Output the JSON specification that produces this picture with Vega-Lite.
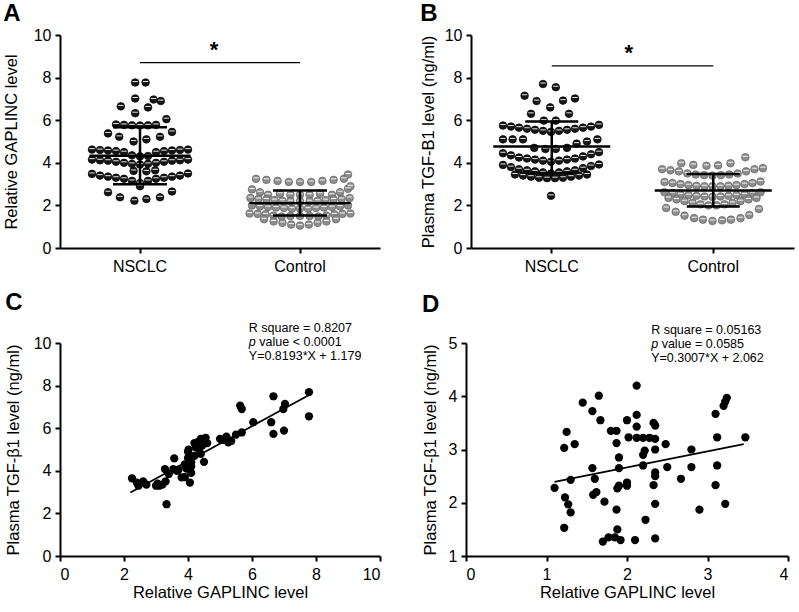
{
"$schema":"https://vega.github.io/schema/vega-lite/v6.json",
"padding":{"left":3,"top":2,"right":2,"bottom":2},
"config":{"font":"Liberation Sans","view":{"stroke":null},
"axis":{"domainColor":"#000","domainWidth":2,"tickColor":"#000","tickWidth":2,"tickSize":5,"labelColor":"#000","labelFontSize":16,"titleColor":"#000","titleFontSize":16.5,"titleFontWeight":"normal","grid":false},
"axisY":{"labelPadding":4},
"axisX":{"labelPadding":5},
"title":{"fontSize":24,"fontWeight":"bold","anchor":"start","frame":"bounds","color":"#000"}},
"datasets":{
"aPts":[
{"group":"NSCLC","slot":-0.6,"v":7.77},{"group":"NSCLC","slot":0.7,"v":7.77},
{"group":"NSCLC","slot":-0.6,"v":7.02},{"group":"NSCLC","slot":1.7,"v":6.97},{"group":"NSCLC","slot":2.6,"v":6.9},
{"group":"NSCLC","slot":-2.4,"v":6.65},{"group":"NSCLC","slot":1.0,"v":6.6},
{"group":"NSCLC","slot":-0.6,"v":6.33},{"group":"NSCLC","slot":3.3,"v":6.05},
{"group":"NSCLC","slot":-3,"v":5.8},{"group":"NSCLC","slot":-2,"v":5.78},{"group":"NSCLC","slot":-1,"v":5.76},{"group":"NSCLC","slot":0,"v":5.75},{"group":"NSCLC","slot":1,"v":5.76},{"group":"NSCLC","slot":2,"v":5.78},
{"group":"NSCLC","slot":-4,"v":5.38},{"group":"NSCLC","slot":-2.6,"v":5.22},{"group":"NSCLC","slot":-0.8,"v":5.0},{"group":"NSCLC","slot":0.8,"v":5.1},{"group":"NSCLC","slot":2.5,"v":5.22},{"group":"NSCLC","slot":4,"v":5.45},
{"group":"NSCLC","slot":-6,"v":4.62},{"group":"NSCLC","slot":-5,"v":4.6},{"group":"NSCLC","slot":-4,"v":4.58},{"group":"NSCLC","slot":-3,"v":4.55},{"group":"NSCLC","slot":-2,"v":4.5},{"group":"NSCLC","slot":-1,"v":4.35},{"group":"NSCLC","slot":0,"v":4.3},{"group":"NSCLC","slot":1,"v":4.32},{"group":"NSCLC","slot":2,"v":4.5},{"group":"NSCLC","slot":3,"v":4.55},{"group":"NSCLC","slot":4,"v":4.58},{"group":"NSCLC","slot":5,"v":4.6},{"group":"NSCLC","slot":6,"v":4.62},
{"group":"NSCLC","slot":-6,"v":4.15},{"group":"NSCLC","slot":-5,"v":4.12},{"group":"NSCLC","slot":-4,"v":4.1},{"group":"NSCLC","slot":-3,"v":4.05},{"group":"NSCLC","slot":-2,"v":4.0},{"group":"NSCLC","slot":-1,"v":3.95},{"group":"NSCLC","slot":0,"v":3.92},{"group":"NSCLC","slot":1,"v":3.95},{"group":"NSCLC","slot":2,"v":4.0},{"group":"NSCLC","slot":3,"v":4.05},{"group":"NSCLC","slot":4,"v":4.1},{"group":"NSCLC","slot":5,"v":4.12},{"group":"NSCLC","slot":6,"v":4.15},
{"group":"NSCLC","slot":-0.8,"v":3.62},{"group":"NSCLC","slot":0.8,"v":3.6},{"group":"NSCLC","slot":1.9,"v":3.65},
{"group":"NSCLC","slot":-6,"v":3.48},{"group":"NSCLC","slot":-5,"v":3.4},{"group":"NSCLC","slot":-4,"v":3.35},{"group":"NSCLC","slot":-3,"v":3.3},{"group":"NSCLC","slot":-2,"v":3.25},{"group":"NSCLC","slot":-1,"v":3.15},{"group":"NSCLC","slot":0,"v":3.05},{"group":"NSCLC","slot":1,"v":3.15},{"group":"NSCLC","slot":2,"v":3.25},{"group":"NSCLC","slot":3,"v":3.3},{"group":"NSCLC","slot":4,"v":3.35},{"group":"NSCLC","slot":5,"v":3.4},{"group":"NSCLC","slot":6,"v":3.5},
{"group":"NSCLC","slot":0,"v":2.9},{"group":"NSCLC","slot":-4,"v":2.62},{"group":"NSCLC","slot":4,"v":2.65},
{"group":"NSCLC","slot":-2.5,"v":2.38},{"group":"NSCLC","slot":-0.7,"v":2.22},{"group":"NSCLC","slot":0.8,"v":2.3},{"group":"NSCLC","slot":2.5,"v":2.38},
{"group":"Control","slot":-5.5,"v":3.25},{"group":"Control","slot":-4.2,"v":3.2},{"group":"Control","slot":-2.8,"v":3.15},{"group":"Control","slot":-1.4,"v":3.1},{"group":"Control","slot":0,"v":3.1},{"group":"Control","slot":1.4,"v":3.1},{"group":"Control","slot":2.8,"v":3.15},{"group":"Control","slot":4.2,"v":3.2},{"group":"Control","slot":5.5,"v":3.25},{"group":"Control","slot":6.0,"v":3.45},
{"group":"Control","slot":-6,"v":2.75},{"group":"Control","slot":-5,"v":2.62},{"group":"Control","slot":-4,"v":2.5},{"group":"Control","slot":4,"v":2.5},{"group":"Control","slot":5,"v":2.62},{"group":"Control","slot":6,"v":2.78},{"group":"Control","slot":6.3,"v":2.9},
{"group":"Control","slot":-2.5,"v":2.55},{"group":"Control","slot":-1.2,"v":2.5},{"group":"Control","slot":0,"v":2.5},{"group":"Control","slot":1.2,"v":2.5},{"group":"Control","slot":2.5,"v":2.55},
{"group":"Control","slot":-6.2,"v":2.35},{"group":"Control","slot":-5.2,"v":2.3},{"group":"Control","slot":-4.2,"v":2.28},{"group":"Control","slot":-3.2,"v":2.25},{"group":"Control","slot":-2.2,"v":2.22},{"group":"Control","slot":-1.2,"v":2.2},{"group":"Control","slot":0,"v":2.2},{"group":"Control","slot":1.2,"v":2.2},{"group":"Control","slot":2.2,"v":2.22},{"group":"Control","slot":3.2,"v":2.25},{"group":"Control","slot":4.2,"v":2.28},{"group":"Control","slot":5.2,"v":2.3},{"group":"Control","slot":6.2,"v":2.35},
{"group":"Control","slot":-6,"v":2.0},{"group":"Control","slot":-5,"v":1.95},{"group":"Control","slot":-4,"v":1.92},{"group":"Control","slot":-3,"v":1.9},{"group":"Control","slot":-2,"v":1.88},{"group":"Control","slot":-1,"v":1.85},{"group":"Control","slot":0,"v":1.85},{"group":"Control","slot":1,"v":1.85},{"group":"Control","slot":2,"v":1.88},{"group":"Control","slot":3,"v":1.9},{"group":"Control","slot":4,"v":1.92},{"group":"Control","slot":5,"v":1.95},{"group":"Control","slot":6,"v":2.0},
{"group":"Control","slot":-6.3,"v":1.62},{"group":"Control","slot":-5.3,"v":1.6},{"group":"Control","slot":-4.3,"v":1.58},{"group":"Control","slot":-3.3,"v":1.52},{"group":"Control","slot":-2.3,"v":1.48},{"group":"Control","slot":-1.2,"v":1.5},{"group":"Control","slot":0,"v":1.5},{"group":"Control","slot":1.2,"v":1.5},{"group":"Control","slot":2.3,"v":1.48},{"group":"Control","slot":3.3,"v":1.52},{"group":"Control","slot":4.3,"v":1.58},{"group":"Control","slot":5.3,"v":1.6},{"group":"Control","slot":6.3,"v":1.62},
{"group":"Control","slot":-4.5,"v":1.35},{"group":"Control","slot":-3.3,"v":1.25},{"group":"Control","slot":-2.2,"v":1.18},{"group":"Control","slot":-1.1,"v":1.1},{"group":"Control","slot":0,"v":1.05},{"group":"Control","slot":1.1,"v":1.1},{"group":"Control","slot":2.2,"v":1.18},{"group":"Control","slot":3.3,"v":1.25},{"group":"Control","slot":4.5,"v":1.35}
],
"aStats":[{"group":"NSCLC","mean":4.33,"lo":2.99,"hi":5.67},{"group":"Control","mean":2.1,"lo":1.52,"hi":2.7}],
"aSig":[{"group":"NSCLC","group2":"Control","y":8.7,"ys":9.3}],
"bPts":[
{"group":"NSCLC","slot":-1.0,"v":7.7},{"group":"NSCLC","slot":0.6,"v":7.55},{"group":"NSCLC","slot":-3.3,"v":7.15},{"group":"NSCLC","slot":-1.8,"v":6.9},{"group":"NSCLC","slot":1.5,"v":6.92},{"group":"NSCLC","slot":3.0,"v":7.02},{"group":"NSCLC","slot":-0.1,"v":6.6},{"group":"NSCLC","slot":-2.5,"v":6.3},{"group":"NSCLC","slot":2.25,"v":6.3},{"group":"NSCLC","slot":-0.9,"v":5.98},{"group":"NSCLC","slot":0.6,"v":5.98},
{"group":"NSCLC","slot":-6,"v":5.75},{"group":"NSCLC","slot":-5,"v":5.7},{"group":"NSCLC","slot":-4,"v":5.65},{"group":"NSCLC","slot":-3,"v":5.6},{"group":"NSCLC","slot":-2,"v":5.55},{"group":"NSCLC","slot":-1,"v":5.5},{"group":"NSCLC","slot":0,"v":5.45},{"group":"NSCLC","slot":1,"v":5.5},{"group":"NSCLC","slot":2,"v":5.55},{"group":"NSCLC","slot":3,"v":5.6},{"group":"NSCLC","slot":4,"v":5.65},{"group":"NSCLC","slot":5,"v":5.7},{"group":"NSCLC","slot":6,"v":5.78},
{"group":"NSCLC","slot":-6,"v":5.1},{"group":"NSCLC","slot":-4.8,"v":5.1},{"group":"NSCLC","slot":-3.5,"v":5.1},{"group":"NSCLC","slot":4.5,"v":5.0},{"group":"NSCLC","slot":5.8,"v":5.1},{"group":"NSCLC","slot":-2.1,"v":4.7},{"group":"NSCLC","slot":-0.7,"v":4.65},{"group":"NSCLC","slot":0.6,"v":4.65},{"group":"NSCLC","slot":2.0,"v":4.7},{"group":"NSCLC","slot":3.2,"v":4.9},
{"group":"NSCLC","slot":-6,"v":4.45},{"group":"NSCLC","slot":-5,"v":4.35},{"group":"NSCLC","slot":-4,"v":4.25},{"group":"NSCLC","slot":-3,"v":4.2},{"group":"NSCLC","slot":-2,"v":4.15},{"group":"NSCLC","slot":-1,"v":4.1},{"group":"NSCLC","slot":0,"v":4.05},{"group":"NSCLC","slot":1,"v":4.1},{"group":"NSCLC","slot":2,"v":4.15},{"group":"NSCLC","slot":3,"v":4.2},{"group":"NSCLC","slot":4,"v":4.3},{"group":"NSCLC","slot":5,"v":4.4},{"group":"NSCLC","slot":6,"v":4.5},
{"group":"NSCLC","slot":-6,"v":3.9},{"group":"NSCLC","slot":-5,"v":3.8},{"group":"NSCLC","slot":-4,"v":3.7},{"group":"NSCLC","slot":-3,"v":3.65},{"group":"NSCLC","slot":-2,"v":3.6},{"group":"NSCLC","slot":-1,"v":3.55},{"group":"NSCLC","slot":0,"v":3.5},{"group":"NSCLC","slot":1,"v":3.55},{"group":"NSCLC","slot":2,"v":3.6},{"group":"NSCLC","slot":3,"v":3.65},{"group":"NSCLC","slot":4,"v":3.75},{"group":"NSCLC","slot":5,"v":3.85},{"group":"NSCLC","slot":6,"v":3.92},
{"group":"NSCLC","slot":-4.5,"v":3.45},{"group":"NSCLC","slot":-3.5,"v":3.4},{"group":"NSCLC","slot":-2.5,"v":3.35},{"group":"NSCLC","slot":-1.5,"v":3.3},{"group":"NSCLC","slot":-0.5,"v":3.28},{"group":"NSCLC","slot":0.5,"v":3.28},{"group":"NSCLC","slot":1.5,"v":3.3},{"group":"NSCLC","slot":2.5,"v":3.35},{"group":"NSCLC","slot":3.5,"v":3.4},{"group":"NSCLC","slot":4.5,"v":3.45},
{"group":"NSCLC","slot":0,"v":2.45},
{"group":"Control","slot":4.1,"v":4.26},{"group":"Control","slot":-3.9,"v":3.98},{"group":"Control","slot":-2.4,"v":3.9},{"group":"Control","slot":-0.75,"v":3.86},{"group":"Control","slot":0.7,"v":3.88},{"group":"Control","slot":2.25,"v":3.98},
{"group":"Control","slot":-6.3,"v":3.7},{"group":"Control","slot":-5.25,"v":3.65},{"group":"Control","slot":-4.2,"v":3.6},{"group":"Control","slot":-3.15,"v":3.5},{"group":"Control","slot":-2.1,"v":3.45},{"group":"Control","slot":-1.05,"v":3.42},{"group":"Control","slot":0,"v":3.4},{"group":"Control","slot":1.05,"v":3.42},{"group":"Control","slot":2.1,"v":3.45},{"group":"Control","slot":3.15,"v":3.5},{"group":"Control","slot":4.2,"v":3.6},{"group":"Control","slot":5.25,"v":3.7},{"group":"Control","slot":6.3,"v":3.75},
{"group":"Control","slot":-6,"v":3.1},{"group":"Control","slot":-5,"v":3.05},{"group":"Control","slot":-4,"v":3.0},{"group":"Control","slot":-3,"v":2.95},{"group":"Control","slot":-2,"v":2.92},{"group":"Control","slot":-1,"v":2.9},{"group":"Control","slot":0,"v":2.9},{"group":"Control","slot":1,"v":2.9},{"group":"Control","slot":2,"v":2.92},{"group":"Control","slot":3,"v":2.95},{"group":"Control","slot":4,"v":3.0},{"group":"Control","slot":5,"v":3.05},{"group":"Control","slot":6,"v":3.12},
{"group":"Control","slot":-6,"v":2.62},{"group":"Control","slot":-5,"v":2.58},{"group":"Control","slot":-4,"v":2.52},{"group":"Control","slot":-3,"v":2.48},{"group":"Control","slot":-2,"v":2.45},{"group":"Control","slot":-1,"v":2.42},{"group":"Control","slot":0,"v":2.4},{"group":"Control","slot":1,"v":2.42},{"group":"Control","slot":2,"v":2.45},{"group":"Control","slot":3,"v":2.48},{"group":"Control","slot":4,"v":2.52},{"group":"Control","slot":5,"v":2.58},{"group":"Control","slot":6,"v":2.62},
{"group":"Control","slot":-5.5,"v":2.35},{"group":"Control","slot":-4.5,"v":2.28},{"group":"Control","slot":-3.5,"v":2.2},{"group":"Control","slot":-2.5,"v":2.12},{"group":"Control","slot":-1.5,"v":2.05},{"group":"Control","slot":-0.5,"v":2.0},{"group":"Control","slot":0.5,"v":2.0},{"group":"Control","slot":1.5,"v":2.05},{"group":"Control","slot":2.5,"v":2.12},{"group":"Control","slot":3.5,"v":2.2},{"group":"Control","slot":4.5,"v":2.28},{"group":"Control","slot":5.5,"v":2.35},
{"group":"Control","slot":-5.8,"v":1.88},{"group":"Control","slot":-4.6,"v":1.7},{"group":"Control","slot":-3.5,"v":1.52},{"group":"Control","slot":-2.3,"v":1.4},{"group":"Control","slot":-1.2,"v":1.33},{"group":"Control","slot":0,"v":1.27},{"group":"Control","slot":1.2,"v":1.3},{"group":"Control","slot":2.3,"v":1.33},{"group":"Control","slot":3.5,"v":1.4},{"group":"Control","slot":4.6,"v":1.55},{"group":"Control","slot":5.8,"v":1.83}
],
"bStats":[{"group":"NSCLC","mean":4.77,"lo":3.52,"hi":5.94},{"group":"Control","mean":2.7,"lo":1.95,"hi":3.48}],
"bSig":[{"group":"NSCLC","group2":"Control","y":8.55,"ys":9.15}],
"cPts":[
{"x":2.25,"y":3.65},{"x":2.4,"y":3.45},{"x":2.45,"y":3.3},{"x":2.6,"y":3.5},{"x":2.7,"y":3.35},{"x":3.0,"y":3.3},{"x":3.05,"y":3.4},{"x":3.1,"y":3.3},{"x":3.2,"y":3.35},{"x":3.28,"y":4.08},{"x":3.3,"y":3.5},{"x":3.33,"y":2.43},{"x":3.4,"y":3.85},{"x":3.54,"y":4.08},{"x":3.57,"y":4.58},{"x":3.65,"y":4.0},{"x":3.7,"y":4.05},{"x":3.8,"y":3.69},{"x":3.9,"y":3.7},{"x":3.9,"y":4.3},{"x":3.95,"y":4.1},{"x":4.0,"y":4.6},{"x":4.0,"y":4.9},{"x":4.02,"y":5.0},{"x":4.05,"y":4.55},{"x":4.06,"y":3.45},{"x":4.1,"y":4.4},{"x":4.1,"y":4.2},{"x":4.1,"y":3.9},{"x":4.2,"y":4.7},{"x":4.2,"y":5.3},{"x":4.25,"y":5.1},{"x":4.3,"y":5.35},{"x":4.35,"y":5.0},{"x":4.4,"y":4.8},{"x":4.4,"y":5.5},{"x":4.45,"y":5.2},{"x":4.5,"y":4.42},{"x":4.55,"y":5.55},{"x":4.6,"y":5.3},{"x":5.0,"y":5.5},{"x":5.1,"y":5.45},{"x":5.2,"y":5.6},{"x":5.26,"y":5.34},{"x":5.35,"y":5.4},{"x":5.5,"y":5.7},{"x":5.68,"y":5.8},{"x":5.63,"y":7.06},{"x":5.68,"y":6.9},{"x":6.04,"y":6.28},{"x":6.6,"y":6.28},{"x":6.67,"y":5.73},{"x":6.67,"y":7.5},{"x":6.98,"y":6.9},{"x":7.03,"y":7.14},{"x":7.0,"y":5.89},{"x":7.78,"y":7.69},{"x":7.78,"y":6.56}
],
"cFit":[{"x":2.2,"y":2.98,"x2":7.8,"y2":7.57}],
"cAnn":[{"x":5.9,"y":10.707,"t":"R square = 0.8207"},{"x":5.9,"y":9.393,"t":"Y=0.8193*X + 1.179"}],
"cP":[{"x":5.9,"y":10.05,"t":"value < 0.0001"}],
"dPts":[
{"x":1.1,"y":2.28},{"x":1.22,"y":3.03},{"x":1.25,"y":3.33},{"x":1.35,"y":3.1},{"x":1.3,"y":2.43},{"x":1.23,"y":2.1},{"x":1.27,"y":1.97},{"x":1.3,"y":1.82},{"x":1.22,"y":1.53},
{"x":1.45,"y":3.88},{"x":1.57,"y":3.72},{"x":1.65,"y":4.01},{"x":1.67,"y":3.55},{"x":1.57,"y":2.65},{"x":1.6,"y":2.45},{"x":1.58,"y":2.15},{"x":1.62,"y":2.2},{"x":1.72,"y":2.02},
{"x":1.7,"y":1.27},{"x":1.77,"y":1.35},{"x":1.85,"y":1.35},{"x":1.8,"y":3.35},{"x":1.87,"y":3.35},{"x":1.87,"y":3.12},{"x":1.9,"y":2.85},{"x":1.9,"y":2.65},{"x":1.88,"y":2.27},{"x":1.9,"y":2.32},{"x":1.87,"y":1.87},{"x":1.88,"y":1.5},{"x":1.92,"y":1.3},
{"x":2.0,"y":3.55},{"x":2.02,"y":3.23},{"x":2.0,"y":2.38},{"x":2.0,"y":2.32},{"x":2.12,"y":4.2},{"x":2.12,"y":3.65},{"x":2.12,"y":3.43},{"x":2.12,"y":3.22},{"x":2.2,"y":3.22},{"x":2.28,"y":3.22},{"x":2.2,"y":2.9},{"x":2.22,"y":2.98},{"x":2.2,"y":2.7},{"x":2.1,"y":1.3},{"x":2.23,"y":1.68},
{"x":2.33,"y":3.5},{"x":2.35,"y":3.45},{"x":2.35,"y":3.2},{"x":2.35,"y":3.0},{"x":2.35,"y":2.57},{"x":2.35,"y":2.5},{"x":2.33,"y":2.33},{"x":2.35,"y":1.98},{"x":2.35,"y":1.33},
{"x":2.48,"y":3.1},{"x":2.5,"y":2.67},{"x":2.67,"y":2.45},{"x":2.8,"y":3.0},{"x":2.8,"y":2.67},{"x":2.9,"y":1.87},
{"x":3.1,"y":3.67},{"x":3.12,"y":3.23},{"x":3.12,"y":2.7},{"x":3.1,"y":2.33},{"x":3.2,"y":3.82},{"x":3.22,"y":3.9},{"x":3.24,"y":3.97},{"x":3.22,"y":1.98},{"x":3.47,"y":3.23}
],
"dFit":[{"x":1.1,"y":2.393,"x2":3.45,"y2":3.099}],
"dAnn":[{"x":2.3,"y":5.243,"t":"R square = 0.05163"},{"x":2.3,"y":4.717,"t":"Y=0.3007*X + 2.062"}],
"dP":[{"x":2.3,"y":4.98,"t":"value = 0.0585"}]
},
"vconcat":[
{"hconcat":[
{"width":320,"height":213,"title":{"text":"A","offset":1},
"layer":[
{"data":{"name":"aPts"},"mark":{"type":"point","shape":"circle","filled":true,"size":58,"opacity":1,"strokeWidth":0.7},
"encoding":{"x":{"field":"group","type":"nominal","sort":["NSCLC","Control"],"scale":{"type":"band","padding":0},"axis":{"title":null,"labelAngle":0}},
"xOffset":{"field":"slot","type":"quantitative","scale":{"domain":[-1,1],"range":[72,88]}},
"y":{"field":"v","type":"quantitative","scale":{"domain":[0,10],"nice":false},"axis":{"title":"Relative GAPLINC level","values":[0,2,4,6,8,10],"titlePadding":14}},
"fill":{"field":"group","type":"nominal","scale":{"domain":["NSCLC","Control"],"range":["#151515","#8e8e8e"]},"legend":null},
"stroke":{"field":"group","type":"nominal","scale":{"domain":["NSCLC","Control"],"range":["#000000","#5e5e5e"]},"legend":null}}},
{"data":{"name":"aPts"},"mark":{"type":"point","shape":"M -0.7 -0.25 L 0.7 -0.25","filled":false,"size":58,"stroke":"#ffffff","strokeWidth":1.0,"opacity":0.9},
"encoding":{"x":{"field":"group","type":"nominal","sort":["NSCLC","Control"]},"xOffset":{"field":"slot","type":"quantitative"},"y":{"field":"v","type":"quantitative"}}},
{"data":{"name":"aStats"},"mark":{"type":"tick","size":101,"thickness":2.5,"color":"#000","opacity":1},"encoding":{"x":{"field":"group","type":"nominal","sort":["NSCLC","Control"]},"y":{"field":"mean","type":"quantitative"}}},
{"data":{"name":"aStats"},"mark":{"type":"rule","strokeWidth":2.5,"color":"#000"},"encoding":{"x":{"field":"group","type":"nominal","sort":["NSCLC","Control"]},"y":{"field":"lo","type":"quantitative"},"y2":{"field":"hi"}}},
{"data":{"name":"aStats"},"mark":{"type":"tick","size":54,"thickness":2.5,"color":"#000","opacity":1},"encoding":{"x":{"field":"group","type":"nominal","sort":["NSCLC","Control"]},"y":{"field":"lo","type":"quantitative"}}},
{"data":{"name":"aStats"},"mark":{"type":"tick","size":54,"thickness":2.5,"color":"#000","opacity":1},"encoding":{"x":{"field":"group","type":"nominal","sort":["NSCLC","Control"]},"y":{"field":"hi","type":"quantitative"}}},
{"data":{"name":"aSig"},"mark":{"type":"rule","strokeWidth":1.3,"color":"#000"},"encoding":{"x":{"field":"group","type":"nominal","sort":["NSCLC","Control"]},"x2":{"field":"group2"},"y":{"field":"y","type":"quantitative"}}},
{"data":{"name":"aSig"},"mark":{"type":"text","text":"*","fontSize":22,"fontWeight":"bold","dx":74,"baseline":"middle","color":"#000"},"encoding":{"x":{"field":"group","type":"nominal","sort":["NSCLC","Control"]},"y":{"field":"ys","type":"quantitative"}}}
]},
{"width":323,"height":213,"title":{"text":"B","offset":1},
"layer":[
{"data":{"name":"bPts"},"mark":{"type":"point","shape":"circle","filled":true,"size":58,"opacity":1,"strokeWidth":0.7},
"encoding":{"x":{"field":"group","type":"nominal","sort":["NSCLC","Control"],"scale":{"type":"band","padding":0},"axis":{"title":null,"labelAngle":0}},
"xOffset":{"field":"slot","type":"quantitative","scale":{"domain":[-1,1],"range":[72.75,88.75]}},
"y":{"field":"v","type":"quantitative","scale":{"domain":[0,10],"nice":false},"axis":{"title":"Plasma TGF-B1 level (ng/ml)","values":[0,2,4,6,8,10],"titlePadding":8}},
"fill":{"field":"group","type":"nominal","scale":{"domain":["NSCLC","Control"],"range":["#151515","#8e8e8e"]},"legend":null},
"stroke":{"field":"group","type":"nominal","scale":{"domain":["NSCLC","Control"],"range":["#000000","#5e5e5e"]},"legend":null}}},
{"data":{"name":"bPts"},"mark":{"type":"point","shape":"M -0.7 -0.25 L 0.7 -0.25","filled":false,"size":58,"stroke":"#ffffff","strokeWidth":1.0,"opacity":0.9},
"encoding":{"x":{"field":"group","type":"nominal","sort":["NSCLC","Control"]},"xOffset":{"field":"slot","type":"quantitative"},"y":{"field":"v","type":"quantitative"}}},
{"data":{"name":"bStats"},"mark":{"type":"tick","size":117,"thickness":2.5,"color":"#000","opacity":1},"encoding":{"x":{"field":"group","type":"nominal","sort":["NSCLC","Control"]},"y":{"field":"mean","type":"quantitative"}}},
{"data":{"name":"bStats"},"mark":{"type":"rule","strokeWidth":2.5,"color":"#000"},"encoding":{"x":{"field":"group","type":"nominal","sort":["NSCLC","Control"]},"y":{"field":"lo","type":"quantitative"},"y2":{"field":"hi"}}},
{"data":{"name":"bStats"},"mark":{"type":"tick","size":53,"thickness":2.5,"color":"#000","opacity":1},"encoding":{"x":{"field":"group","type":"nominal","sort":["NSCLC","Control"]},"y":{"field":"lo","type":"quantitative"}}},
{"data":{"name":"bStats"},"mark":{"type":"tick","size":53,"thickness":2.5,"color":"#000","opacity":1},"encoding":{"x":{"field":"group","type":"nominal","sort":["NSCLC","Control"]},"y":{"field":"hi","type":"quantitative"}}},
{"data":{"name":"bSig"},"mark":{"type":"rule","strokeWidth":1.3,"color":"#000"},"encoding":{"x":{"field":"group","type":"nominal","sort":["NSCLC","Control"]},"x2":{"field":"group2"},"y":{"field":"y","type":"quantitative"}}},
{"data":{"name":"bSig"},"mark":{"type":"text","text":"*","fontSize":22,"fontWeight":"bold","dx":77,"baseline":"middle","color":"#000"},"encoding":{"x":{"field":"group","type":"nominal","sort":["NSCLC","Control"]},"y":{"field":"ys","type":"quantitative"}}}
]}
],"spacing":40},
{"hconcat":[
{"width":320,"height":213,"title":{"text":"C","offset":7},
"layer":[
{"data":{"name":"cPts"},"mark":{"type":"circle","size":68,"color":"#000","opacity":1},
"encoding":{"x":{"field":"x","type":"quantitative","scale":{"domain":[0,10],"nice":false},"axis":{"title":"Relative GAPLINC level","values":[0,2,4,6,8,10],"titlePadding":2}},
"y":{"field":"y","type":"quantitative","scale":{"domain":[0,10],"nice":false},"axis":{"title":"Plasma TGF-β1 level (ng/ml)","values":[0,2,4,6,8,10],"titlePadding":12}}}},
{"data":{"name":"cFit"},"mark":{"type":"rule","strokeWidth":1.8,"color":"#000"},"encoding":{"x":{"field":"x","type":"quantitative"},"y":{"field":"y","type":"quantitative"},"x2":{"field":"x2"},"y2":{"field":"y2"}}},
{"data":{"name":"cAnn"},"mark":{"type":"text","align":"left","baseline":"middle","fontSize":12.5,"color":"#000"},"encoding":{"x":{"field":"x","type":"quantitative"},"y":{"field":"y","type":"quantitative"},"text":{"field":"t"}}},
{"data":{"name":"cP"},"mark":{"type":"text","text":"p","fontStyle":"italic","align":"left","baseline":"middle","fontSize":12.5,"color":"#000"},"encoding":{"x":{"field":"x","type":"quantitative"},"y":{"field":"y","type":"quantitative"}}},
{"data":{"name":"cP"},"mark":{"type":"text","align":"left","baseline":"middle","fontSize":12.5,"dx":10.5,"color":"#000"},"encoding":{"x":{"field":"x","type":"quantitative"},"y":{"field":"y","type":"quantitative"},"text":{"field":"t"}}}
]},
{"width":322,"height":213,"title":{"text":"D","offset":7},
"layer":[
{"data":{"name":"dPts"},"mark":{"type":"circle","size":68,"color":"#000","opacity":1},
"encoding":{"x":{"field":"x","type":"quantitative","scale":{"domain":[0,4],"nice":false},"axis":{"title":"Relative GAPLINC level","values":[0,1,2,3,4],"format":"d","titlePadding":2}},
"y":{"field":"y","type":"quantitative","scale":{"domain":[1,5],"nice":false,"zero":false},"axis":{"title":"Plasma TGF-β1 level (ng/ml)","values":[1,2,3,4,5],"format":"d","titlePadding":10}}}},
{"data":{"name":"dFit"},"mark":{"type":"rule","strokeWidth":1.8,"color":"#000"},"encoding":{"x":{"field":"x","type":"quantitative"},"y":{"field":"y","type":"quantitative"},"x2":{"field":"x2"},"y2":{"field":"y2"}}},
{"data":{"name":"dAnn"},"mark":{"type":"text","align":"left","baseline":"middle","fontSize":12.5,"color":"#000"},"encoding":{"x":{"field":"x","type":"quantitative"},"y":{"field":"y","type":"quantitative"},"text":{"field":"t"}}},
{"data":{"name":"dP"},"mark":{"type":"text","text":"p","fontStyle":"italic","align":"left","baseline":"middle","fontSize":12.5,"color":"#000"},"encoding":{"x":{"field":"x","type":"quantitative"},"y":{"field":"y","type":"quantitative"}}},
{"data":{"name":"dP"},"mark":{"type":"text","align":"left","baseline":"middle","fontSize":12.5,"dx":10.5,"color":"#000"},"encoding":{"x":{"field":"x","type":"quantitative"},"y":{"field":"y","type":"quantitative"},"text":{"field":"t"}}}
]}
],"spacing":41}
],
"spacing":16
}
